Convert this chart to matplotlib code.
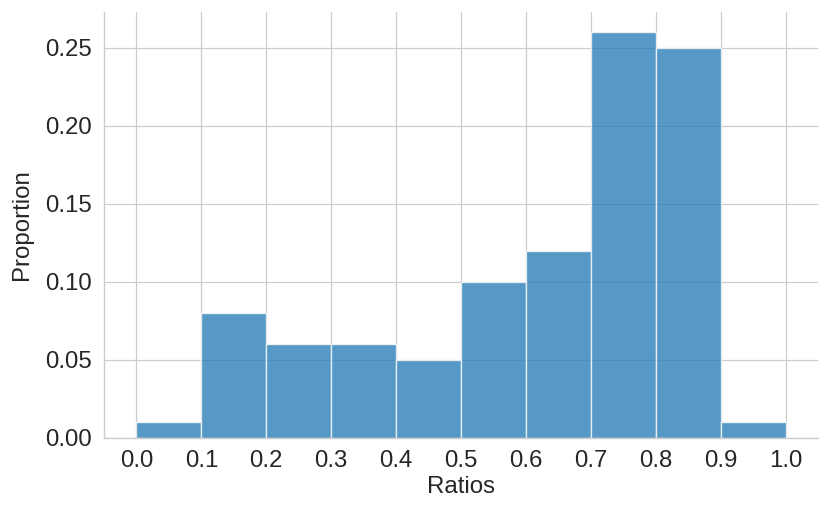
import matplotlib
matplotlib.use("Agg")
import matplotlib.pyplot as plt
import numpy as np
import seaborn as sns

bin_edges = [0.0, 0.1, 0.2, 0.3, 0.4, 0.5, 0.6, 0.7, 0.8, 0.9, 1.0]
proportions = [0.01, 0.08, 0.06, 0.06, 0.05, 0.10, 0.12, 0.26, 0.25, 0.01]
x_ticks = [0.0, 0.1, 0.2, 0.3, 0.4, 0.5, 0.6, 0.7, 0.8, 0.9, 1.0]
y_ticks = [0.00, 0.05, 0.10, 0.15, 0.20, 0.25]

sns.set_theme(style="whitegrid")
plt.rcParams['font.family'] = ['Liberation Sans', 'DejaVu Sans']
plt.rcParams['grid.linewidth'] = 0.6
plt.rcParams['axes.linewidth'] = 0.7

fig = plt.figure(figsize=(831/144, 516/144), dpi=144)
ax = fig.add_axes([104/831, 1-438/516, (818-104)/831, (438-12)/516])

widths = np.diff(bin_edges)
ax.bar(bin_edges[:-1], proportions, width=widths, align='edge',
       color='#1f77b4', alpha=0.75, edgecolor='white', linewidth=0.7)

ax.set_xticks(x_ticks)
ax.set_xticklabels([f"{t:.1f}" for t in x_ticks])
ax.set_yticks(y_ticks)
ax.set_yticklabels([f"{t:.2f}" for t in y_ticks])
ax.tick_params(labelsize=12, length=0, pad=6)
ax.set_xlabel("Ratios", fontsize=12, labelpad=2)
ax.set_ylabel("Proportion", fontsize=12, labelpad=6)
sns.despine(ax=ax)
ax.margins(x=0.05, y=0.05)

fig.savefig("out.png", dpi=144)
